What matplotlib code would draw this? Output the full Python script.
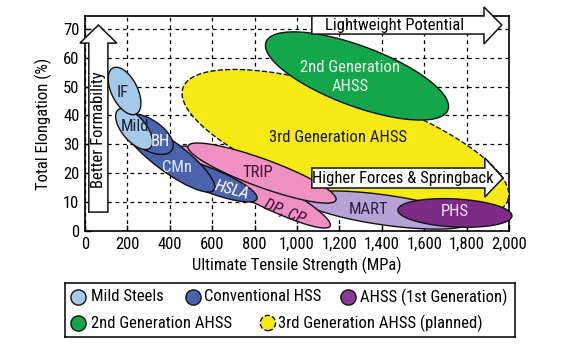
import matplotlib.pyplot as plt
import numpy as np
from matplotlib.patches import Polygon

plt.rcParams['font.family'] = ['Roboto Condensed', 'Archivo Narrow', 'DejaVu Sans']

# steel grades: major-axis end points (MPa, %)
grade_names = ['3rd Generation AHSS', '2nd Generation\nAHSS', 'MART', 'PHS', 'DP, CP', 'TRIP',
               'HSLA', 'CMn', 'BH', 'Mild', 'IF']
start_mpa = [462, 854, 1014, 1476, 439, 486, 344, 179, 175, 156, 132]
start_el = [49.5, 65.4, 11.4, 7.3, 28.7, 29.4, 24.6, 37.7, 39.1, 41.9, 56.4]
end_mpa = [1995, 1712, 1816, 2014, 1156, 1184, 811, 608, 410, 307, 241]
end_el = [10.7, 41.9, 3.1, 5.2, 1.7, 10.7, 11.1, 14.2, 28.0, 28.7, 40.5]

x_ticks = [0, 200, 400, 600, 800, 1000, 1200, 1400, 1600, 1800, 2000]
x_labels = ['0', '200', '400', '600', '800', '1,000', '1,200', '1,400', '1,600', '1,800', '2,000']
y_ticks = [0, 10, 20, 30, 40, 50, 60, 70]

legend_labels = ['Mild Steels', 'Conventional HSS', 'AHSS (1st Generation)',
                 '2nd Generation AHSS', '3rd Generation AHSS (planned)']

# styling for each ellipse (same order as grade_names)
fills = ['#f6ea14', '#14a64b', '#b7a2d6', '#7e2b88', '#ef8fc3', '#f091c4',
         '#4b62ae', '#4b62ae', '#4b62ae', '#a5c9e9', '#a5c9e9']
half_w = [52, 30, 15, 14, 14, 14, 12, 15, 15, 12, 13]
txt_color = ['#1a1a00', '#e8f6ea', '#2a2040', '#f3e3f3', '#3a1030', '#3a1030',
             'white', '#e6e8ff', 'white', '#1a2030', '#1a2030']
txt_pos = [(1193, 32.2), (1250, 53.3), (1335, 7.3), (1745, 6.6), (943, 6.6), (816, 20.4),
           (693, 14.2), (434, 22.1), (354, 30.8), (236, 36.0), (179, 48.0)]
txt_rot = [0, 0, 0, 0, -22, 0, -15, 0, 0, 0, 0]
txt_style = ['normal', 'normal', 'normal', 'normal', 'italic', 'normal',
             'italic', 'normal', 'normal', 'normal', 'normal']

fig = plt.figure(figsize=(5.66, 3.49), dpi=100)
ax = fig.add_axes([85 / 566, 1 - 231 / 349, 424 / 566, 215 / 349])
ax.set_xlim(0, 2000)
ax.set_ylim(0, 74.4)
ax.set_xticks(x_ticks)
ax.set_xticklabels(x_labels)
ax.set_yticks(y_ticks)
ax.tick_params(labelsize=12, direction='in', length=4, width=1, pad=4)
for s in ax.spines.values():
    s.set_linewidth(1.2)
ax.grid(True, color='black', linestyle=(0, (3, 3)), linewidth=0.9)
ax.set_axisbelow(True)
ax.set_xlabel('Ultimate Tensile Strength (MPa)', fontsize=12, labelpad=4)
ax.set_ylabel('Total Elongation (%)', fontsize=12, labelpad=8)


def ellipse_xy(p1, p2, hw, n=300):
    d1 = ax.transData.transform(p1)
    d2 = ax.transData.transform(p2)
    c = (d1 + d2) / 2
    u = (d2 - d1) / 2
    v = np.array([-u[1], u[0]]) / np.hypot(*u) * hw
    t = np.linspace(0, 2 * np.pi, n)
    pts = c + np.outer(np.cos(t), u) + np.outer(np.sin(t), v)
    return ax.transData.inverted().transform(pts)


for i, name in enumerate(grade_names):
    xy = ellipse_xy((start_mpa[i], start_el[i]), (end_mpa[i], end_el[i]), half_w[i])
    ls = '--' if i == 0 else '-'
    ax.add_patch(Polygon(xy, closed=True, facecolor=fills[i], edgecolor='#111111',
                         linewidth=1.0, linestyle=ls, zorder=3 + i, clip_on=False))
    ax.text(txt_pos[i][0], txt_pos[i][1], name, color=txt_color[i], fontsize=12,
            rotation=txt_rot[i], style=txt_style[i], ha='center', va='center',
            zorder=20, linespacing=1.3)


def block_arrow(x0, x1, y0, y1, head_start, tip, h0, h1, vertical=False):
    # arrow in axes fraction coords
    if not vertical:
        ym = (y0 + y1) / 2
        pts = [(x0, y0), (head_start, y0), (head_start, h0), (tip, ym),
               (head_start, h1), (head_start, y1), (x0, y1)]
    else:
        xm = (x0 + x1) / 2
        pts = [(x0, y0), (x0, head_start), (h0, head_start), (xm, tip),
               (h1, head_start), (x1, head_start), (x1, y0)]
    ax.add_patch(Polygon(pts, closed=True, transform=ax.transAxes, facecolor='white',
                         edgecolor='#111111', linewidth=1.1, zorder=30, clip_on=False))


block_arrow(0.535, None, 0.916, 1.0, 0.941, 0.983, 0.870, 1.042)
ax.text(0.729, 0.958, 'Lightweight Potential', transform=ax.transAxes, fontsize=12,
        ha='center', va='center', zorder=31)
block_arrow(0.535, None, 0.200, 0.293, 0.943, 0.986, 0.158, 0.340)
ax.text(0.750, 0.2465, 'Higher Forces & Springback', transform=ax.transAxes, fontsize=12,
        ha='center', va='center', zorder=31)
block_arrow(0.009, 0.054, 0.088, None, 0.874, 0.958, -0.012, 0.075, vertical=True)
ax.text(0.0315, 0.47, 'Better Formability', transform=ax.transAxes, fontsize=12,
        rotation=90, ha='center', va='center', zorder=31)

# legend box
lg = fig.add_axes([65 / 566, 1 - 337 / 349, 450 / 566, 54 / 349])
lg.set_xlim(0, 1)
lg.set_ylim(0, 1)
lg.set_xticks([])
lg.set_yticks([])
for s in lg.spines.values():
    s.set_linewidth(1.1)
mk_x = [0.029, 0.284, 0.629, 0.029, 0.451]
mk_y = [0.741, 0.741, 0.741, 0.259, 0.259]
tx_x = [0.057, 0.308, 0.655, 0.057, 0.473]
mk_fill = ['#a5c9e9', '#4b62ae', '#8a3a94', '#14a64b', '#f6ea14']
for i, lab in enumerate(legend_labels):
    if i == 4:
        lg.scatter(mk_x[i], mk_y[i], s=120, facecolor=mk_fill[i], edgecolor='#111111',
                   linewidth=1.0, linestyle='--', clip_on=False)
    else:
        lg.scatter(mk_x[i], mk_y[i], s=120, facecolor=mk_fill[i], edgecolor='#111111',
                   linewidth=1.0, clip_on=False)
    lg.text(tx_x[i], mk_y[i], lab, fontsize=12, ha='left', va='center')

fig.savefig('out.png', dpi=100)
